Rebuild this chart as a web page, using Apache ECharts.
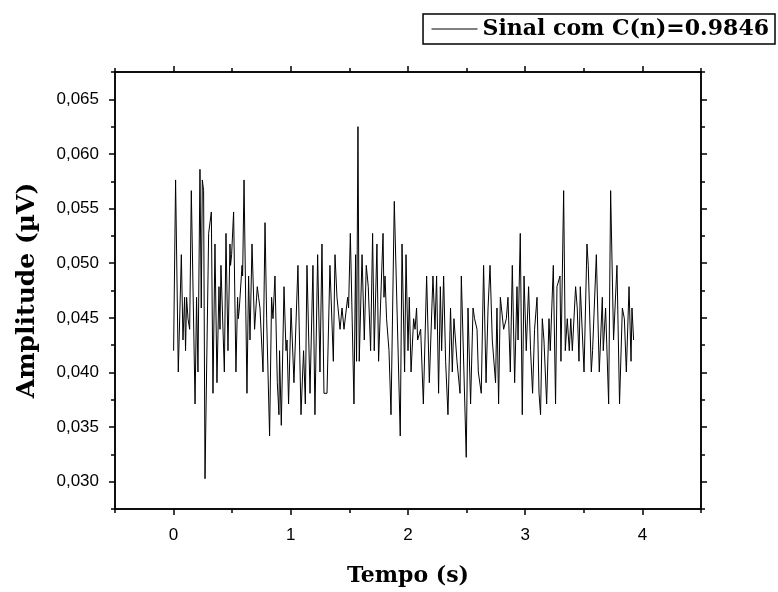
<!DOCTYPE html>
<html>
<head>
<meta charset="utf-8">
<script src="https://cdn.jsdelivr.net/npm/echarts@6/dist/echarts.min.js"></script>
<style>
  html, body { margin: 0; padding: 0; background: #fff; }
  #chart { width: 778px; height: 592px; }
</style>
</head>
<body>
<div id="chart"></div>
<script>
// Sampled signal: time (s) and amplitude (µV)
const tempo = [
  0.000, 0.017, 0.040, 0.066, 0.080, 0.094, 0.102, 0.111, 0.123, 0.137,
  0.151, 0.183, 0.196, 0.208, 0.225, 0.236, 0.245, 0.256, 0.268, 0.299,
  0.307, 0.322, 0.336, 0.353, 0.370, 0.387, 0.396, 0.404, 0.433, 0.447,
  0.464, 0.481, 0.486, 0.495, 0.512, 0.532, 0.546, 0.552, 0.561, 0.575,
  0.584, 0.589, 0.601, 0.626, 0.640, 0.652, 0.669, 0.677, 0.691, 0.714,
  0.725, 0.737, 0.763, 0.780, 0.794, 0.802, 0.819, 0.836, 0.848, 0.865,
  0.885, 0.899, 0.904, 0.919, 0.942, 0.959, 0.968, 0.981, 1.002, 1.027,
  1.061, 1.087, 1.109, 1.124, 1.138, 1.164, 1.189, 1.206, 1.229, 1.249,
  1.266, 1.283, 1.309, 1.334, 1.363, 1.377, 1.394, 1.403, 1.420, 1.437,
  1.454, 1.485, 1.493, 1.508, 1.539, 1.553, 1.561, 1.573, 1.584, 1.608,
  1.627, 1.644, 1.661, 1.681, 1.698, 1.712, 1.735, 1.749, 1.766, 1.787,
  1.795, 1.804, 1.817, 1.838, 1.855, 1.883, 1.934, 1.949, 1.971, 1.983,
  2.000, 2.011, 2.026, 2.048, 2.060, 2.073, 2.082, 2.108, 2.131, 2.159,
  2.182, 2.213, 2.230, 2.244, 2.261, 2.276, 2.287, 2.304, 2.321, 2.341,
  2.363, 2.378, 2.392, 2.406, 2.418, 2.444, 2.455, 2.497, 2.512, 2.534,
  2.555, 2.568, 2.589, 2.600, 2.625, 2.645, 2.666, 2.683, 2.700, 2.719,
  2.747, 2.759, 2.773, 2.788, 2.816, 2.839, 2.853, 2.873, 2.890, 2.910,
  2.930, 2.939, 2.958, 2.975, 2.990, 3.009, 3.029, 3.046, 3.063, 3.080,
  3.101, 3.118, 3.131, 3.146, 3.160, 3.183, 3.203, 3.214, 3.240, 3.259,
  3.271, 3.297, 3.305, 3.328, 3.342, 3.359, 3.376, 3.389, 3.402, 3.416,
  3.430, 3.444, 3.459, 3.470, 3.502, 3.527, 3.538, 3.564, 3.575, 3.607,
  3.632, 3.658, 3.666, 3.686, 3.712, 3.729, 3.754, 3.783, 3.805, 3.829,
  3.846, 3.863, 3.886, 3.903, 3.911, 3.925
];
const amplitude = [
  0.04199, 0.05762, 0.04004, 0.05078, 0.04297, 0.04688, 0.04199, 0.04688, 0.04492, 0.04395,
  0.05664, 0.03711, 0.04688, 0.04004, 0.05859, 0.04590, 0.05762, 0.05664, 0.03027, 0.05273,
  0.05273, 0.05469, 0.03809, 0.05176, 0.03906, 0.04785, 0.04395, 0.04980, 0.04004, 0.05273,
  0.04199, 0.05176, 0.04980, 0.05078, 0.05469, 0.04004, 0.04688, 0.04492, 0.04590, 0.04590,
  0.04980, 0.04883, 0.05762, 0.03809, 0.04883, 0.04297, 0.05176, 0.05176, 0.04395, 0.04785,
  0.04688, 0.04590, 0.04004, 0.05371, 0.04492, 0.04492, 0.03418, 0.04688, 0.04492, 0.04883,
  0.03906, 0.03613, 0.04199, 0.03516, 0.04785, 0.04199, 0.04297, 0.03711, 0.04590, 0.03906,
  0.04980, 0.03613, 0.04199, 0.03711, 0.04980, 0.03809, 0.04980, 0.03613, 0.05078, 0.04004,
  0.05176, 0.03809, 0.03809, 0.04980, 0.04102, 0.05078, 0.04688, 0.04590, 0.04395, 0.04590,
  0.04395, 0.04688, 0.04590, 0.05273, 0.03711, 0.05078, 0.04102, 0.06250, 0.04102, 0.05078,
  0.04297, 0.04980, 0.04785, 0.04199, 0.05273, 0.04199, 0.05176, 0.04102, 0.04102, 0.05273,
  0.04688, 0.04883, 0.04492, 0.04199, 0.03613, 0.05566, 0.03418, 0.05176, 0.04004, 0.05078,
  0.04199, 0.04688, 0.04004, 0.04492, 0.04395, 0.04590, 0.04297, 0.04395, 0.03711, 0.04883,
  0.03906, 0.04883, 0.04395, 0.04883, 0.03809, 0.04785, 0.04199, 0.04883, 0.04102, 0.03613,
  0.04590, 0.04004, 0.04492, 0.04492, 0.04102, 0.03809, 0.04883, 0.03223, 0.04590, 0.03711,
  0.04590, 0.04492, 0.04395, 0.04004, 0.03809, 0.04980, 0.03906, 0.04590, 0.04980, 0.04297,
  0.03906, 0.04590, 0.03711, 0.04688, 0.04395, 0.04492, 0.04688, 0.04004, 0.04980, 0.03906,
  0.04785, 0.04297, 0.05273, 0.03613, 0.04883, 0.04199, 0.04785, 0.04199, 0.03809, 0.04395,
  0.04688, 0.03809, 0.03613, 0.04492, 0.04297, 0.03711, 0.04492, 0.04199, 0.04980, 0.03711,
  0.04785, 0.04883, 0.04102, 0.05664, 0.04199, 0.04492, 0.04199, 0.04492, 0.04199, 0.04199,
  0.04785, 0.04590, 0.04102, 0.04785, 0.04004, 0.05176, 0.04980, 0.04004, 0.04199, 0.05078,
  0.04004, 0.04688, 0.04199, 0.04590, 0.03711, 0.05664, 0.04297, 0.04980, 0.03711, 0.04590,
  0.04492, 0.04004, 0.04785, 0.04102, 0.04590, 0.04297
];

// Axis ranges and tick positions
const xRange = [-0.5, 4.5];
const yRange = [0.0275, 0.0675];
const xMajorTicks = [0, 1, 2, 3, 4];
const xMinorTicks = [-0.5, 0.5, 1.5, 2.5, 3.5, 4.5];
const yMajorTicks = [0.030, 0.035, 0.040, 0.045, 0.050, 0.055, 0.060, 0.065];
const yMinorTicks = [0.0275, 0.0325, 0.0375, 0.0425, 0.0475, 0.0525, 0.0575, 0.0625, 0.0675];

const seriesName = 'Sinal com C(n)=0.9846';
const xTitle = 'Tempo (s)';
const yTitle = 'Amplitude (µV)';

const points = tempo.map((t, i) => [t, amplitude[i]]);

const titleFont = { fontFamily: 'DejaVu Serif', fontWeight: 'bold', color: '#000' };
const labelFont = { fontFamily: 'Liberation Sans', fontSize: 17, color: '#000' };

function makeX(position, ticks, len, opts) {
  return Object.assign({
    type: 'value', position: position, min: xRange[0], max: xRange[1],
    axisLine: { show: true, onZero: false, lineStyle: { color: '#000', width: 1.5 } },
    axisTick: { show: true, inside: false, length: len, customValues: ticks, lineStyle: { color: '#000', width: 1.5 } },
    axisLabel: { show: false },
    splitLine: { show: false }
  }, opts || {});
}
function makeY(position, ticks, len, opts) {
  return Object.assign({
    type: 'value', position: position, min: yRange[0], max: yRange[1],
    axisLine: { show: true, onZero: false, lineStyle: { color: '#000', width: 1.5 } },
    axisTick: { show: true, inside: false, length: len, customValues: ticks, lineStyle: { color: '#000', width: 1.5 } },
    axisLabel: { show: false },
    splitLine: { show: false }
  }, opts || {});
}

const chart = echarts.init(document.getElementById('chart'), null, { renderer: 'canvas' });
chart.setOption({
  backgroundColor: '#fff',
  animation: false,
  grid: { left: 115, right: 77, top: 72, bottom: 82, containLabel: false },
  legend: {
    data: [seriesName],
    right: 3, top: 14,
    orient: 'horizontal',
    borderColor: '#000', borderWidth: 1.5, borderRadius: 0,
    padding: [4, 6, 4, 8],
    itemWidth: 46, itemHeight: 14, itemGap: 8,
    textStyle: { fontFamily: 'DejaVu Serif', fontWeight: 'bold', fontSize: 22, color: '#000' },
    itemStyle: { opacity: 0 },
    lineStyle: { color: '#000', width: 1 }
  },
  xAxis: [
    makeX('bottom', xMajorTicks, 6, {
      name: xTitle, nameLocation: 'middle', nameGap: 56,
      nameTextStyle: Object.assign({ fontSize: 22 }, titleFont),
      axisLabel: Object.assign({ show: true, margin: 18, customValues: xMajorTicks,
        formatter: v => String(v) }, labelFont)
    }),
    makeX('bottom', xMinorTicks, 4),
    makeX('top', xMajorTicks, 6),
    makeX('top', xMinorTicks, 4)
  ],
  yAxis: [
    makeY('left', yMajorTicks, 6, {
      name: yTitle, nameLocation: 'middle', nameGap: 75,
      nameTextStyle: Object.assign({ fontSize: 25 }, titleFont),
      axisLabel: Object.assign({ show: true, margin: 16, customValues: yMajorTicks,
        formatter: v => v.toFixed(3).replace('.', ',') }, labelFont)
    }),
    makeY('left', yMinorTicks, 4),
    makeY('right', yMajorTicks, 6),
    makeY('right', yMinorTicks, 4)
  ],
  series: [{
    name: seriesName,
    type: 'line',
    xAxisIndex: 0, yAxisIndex: 0,
    data: points,
    showSymbol: false, symbol: 'none',
    lineStyle: { color: '#000', width: 1 },
    itemStyle: { color: '#000' }
  }]
});
</script>
</body>
</html>
